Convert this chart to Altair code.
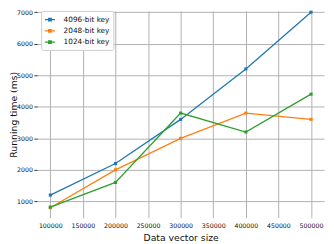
import altair as alt
import pandas as pd

sizes = [100000, 200000, 300000, 400000, 500000]
t4096 = [1200, 2200, 3600, 5200, 7000]
t2048 = [800, 2000, 3000, 3800, 3600]
t1024 = [820, 1600, 3800, 3200, 4400]
series_names = ["4096-bit key", "2048-bit key", "1024-bit key"]
colors = ["#1f77b4", "#ff7f0e", "#2ca02c"]
x_ticks = [100000, 150000, 200000, 250000, 300000, 350000, 400000, 450000, 500000]
y_ticks = [1000, 2000, 3000, 4000, 5000, 6000, 7000]

rows = []
for name, vals in zip(series_names, [t4096, t2048, t1024]):
    for s, v in zip(sizes, vals):
        rows.append({"size": s, "time": v, "key": name})
df = pd.DataFrame(rows)

font = "DejaVu Sans"
W, H = 294, 212

x = alt.X("size:Q", scale=alt.Scale(domain=[80000, 520000], nice=False, zero=False),
          axis=alt.Axis(values=x_ticks, format="d", title="Data vector size",
                        labelFontSize=6.4, labelFont=font, labelColor="#111",
                        labelPadding=5, ticks=False, domain=False,
                        grid=True, gridColor="#b0b0b0", gridWidth=1,
                        titleFont=font, titleFontSize=9.5, titleFontWeight="normal",
                        titleColor="#111", titleY=23, titleBaseline="alphabetic"))
y = alt.Y("time:Q", scale=alt.Scale(domain=[483, 7040], nice=False, zero=False),
          axis=alt.Axis(values=y_ticks, format="d", title="Running time (ms)",
                        labelFontSize=6.4, labelFont=font, labelColor="#111",
                        labelPadding=1.5, tickSize=3.5, tickColor="#333", domain=False,
                        grid=True, gridColor="#b0b0b0", gridWidth=1,
                        titleFont=font, titleFontSize=9.5, titleFontWeight="normal",
                        titleColor="#111", titleX=-21, titleAngle=-90,
                        titleBaseline="alphabetic"))
color = alt.Color("key:N", sort=series_names,
                  scale=alt.Scale(domain=series_names, range=colors),
                  legend=alt.Legend(title=None, orient="none", legendX=4, legendY=0,
                                    labelFont=font, labelFontSize=7.5, labelColor="#111",
                                    symbolType="M-1,0H1M-0.24,-0.24H0.24V0.24H-0.24Z",
                                    symbolSize=110, symbolStrokeWidth=1.4,
                                    rowPadding=0.5, padding=3, cornerRadius=2,
                                    strokeColor="#cccccc", fillColor="white",
                                    labelOffset=8))

base = alt.Chart(df)
lines = base.mark_line(strokeWidth=1.3).encode(x=x, y=y, color=color,
                                               order=alt.Order("size:Q"))
pts = base.mark_point(shape="square", filled=True, size=10, opacity=1).encode(
    x=x, y=y, color=alt.Color("key:N", sort=series_names,
                              scale=alt.Scale(domain=series_names, range=colors),
                              legend=None))

chart = alt.layer(lines, pts).properties(
    width=W, height=H,
    autosize=alt.AutoSizeParams(type="none"),
    padding={"left": 30, "top": 0, "right": 2, "bottom": 24},
    background="white",
).configure_view(stroke=None)

chart.save("out.html", embed_options={"renderer": "svg", "actions": False})
